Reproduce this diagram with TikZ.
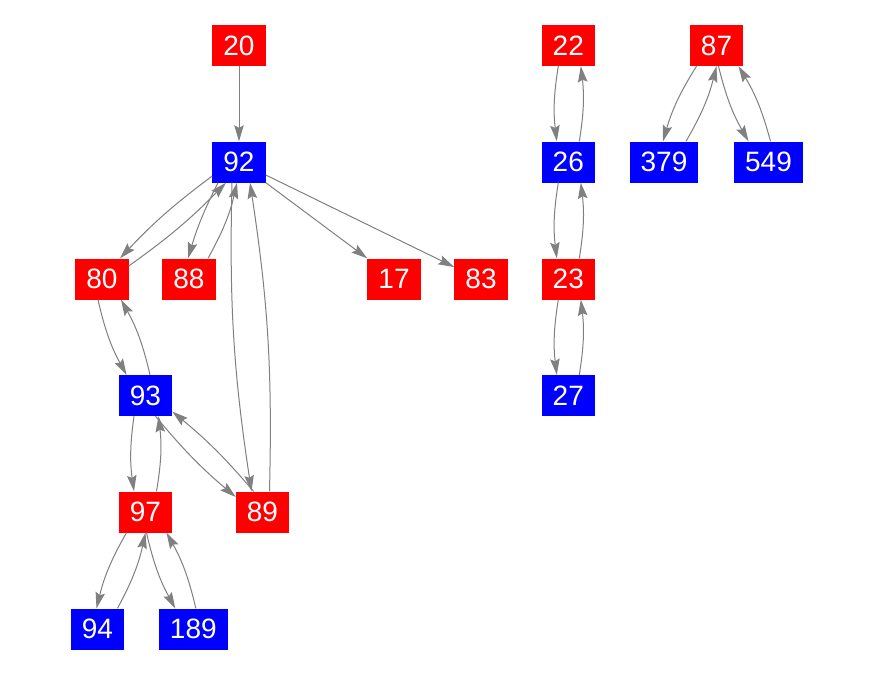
\documentclass[tikz,border=0pt]{standalone}
\usepackage{fontspec}
\setmainfont{Liberation Sans}
\usetikzlibrary{arrows.meta}
\definecolor{edgegray}{RGB}{128,128,128}
\definecolor{nodered}{RGB}{255,0,0}
\definecolor{nodeblue}{RGB}{0,0,255}
\tikzset{
  vbox/.style={rectangle, minimum width=51pt, minimum height=41pt, inner xsep=11pt, inner ysep=0pt, text=white, font=\fontsize{28}{30}\selectfont},
  redbox/.style={vbox, fill=nodered},
  bluebox/.style={vbox, fill=nodeblue},
  conn/.style={draw=edgegray, line width=1pt, -{Stealth[length=16pt,width=9.5pt,inset=2.5pt]}},
  bl/.style={bend right=8},
  bmid/.style={bend right=5},
  blong/.style={bend right=5}
}
\begin{document}
\begin{tikzpicture}[x=1pt,y=-1pt]
\useasboundingbox[fill=white] (0,0) rectangle (875,675);
% nodes
\node[redbox]  (n20)  at (239,45.5)   {20};
\node[bluebox] (n92)  at (239,162)    {92};
\node[redbox]  (n80)  at (102,279)    {80};
\node[redbox]  (n88)  at (189,279)    {88};
\node[redbox]  (n17)  at (394,279)    {17};
\node[redbox]  (n83)  at (481,279)    {83};
\node[bluebox] (n93)  at (145.5,395.5) {93};
\node[redbox]  (n97)  at (145.5,512)  {97};
\node[redbox]  (n89)  at (262.5,512)  {89};
\node[bluebox] (n94)  at (97.5,629)   {94};
\node[bluebox] (n189) at (193.3,629)  {189};
\node[redbox]  (n22)  at (568.3,45.5) {22};
\node[bluebox] (n26)  at (568.3,162)  {26};
\node[redbox]  (n23)  at (568.3,279)  {23};
\node[bluebox] (n27)  at (568.3,395.5) {27};
\node[redbox]  (n87)  at (716.5,45.5) {87};
\node[bluebox] (n379) at (664,162)    {379};
\node[bluebox] (n549) at (768.5,162)  {549};
% edges
\draw[conn] (n20.south) -- (n92.north);
\draw[conn] ([yshift=-14pt]n92.west) to[bmid] ([xshift=18pt]n80.north);
\draw[conn] ([yshift=13pt]n80.east) to[bmid] ([xshift=-13pt]n92.south);
\draw[conn] ([xshift=-21pt]n92.south) to[bmid] ([xshift=-1pt]n88.north);
\draw[conn] ([xshift=19pt]n88.north) to[bl] ([xshift=-2pt]n92.south);
\draw[conn] ([xshift=-7pt]n92.south) to[blong] ([xshift=-11pt]n89.north);
\draw[conn] ([xshift=7pt]n89.north) to[blong] ([xshift=11pt]n92.south);
\draw[conn] (n92.south east) -- (n17.north west);
\draw[conn] ([yshift=-13pt]n92.east) -- ([yshift=12pt]n83.west);
\draw[conn] ([xshift=-4pt]n80.south) to[bl] ([xshift=-19pt]n93.north);
\draw[conn] ([xshift=4.5pt]n93.north) to[bl] ([xshift=19pt]n80.south);
\draw[conn] ([xshift=-11.5pt]n93.south) to[bl] ([xshift=-11.5pt]n97.north);
\draw[conn] ([xshift=11pt]n97.north) to[bl] ([xshift=13pt]n93.south);
\draw[conn] ([xshift=10pt]n93.south) to[bmid] ([yshift=15pt]n89.west);
\draw[conn] ([xshift=-9pt]n89.north) to[bmid] ([yshift=-16pt]n93.east);
\draw[conn] ([xshift=-19pt]n97.south) to[bl] ([xshift=-1pt]n94.north);
\draw[conn] ([xshift=20pt]n94.north) to[bl] (n97.south);
\draw[conn] ([xshift=1pt]n97.south) to[bl] ([xshift=-18pt]n189.north);
\draw[conn] ([xshift=2.5pt]n189.north) to[bl] ([xshift=21pt]n97.south);
\draw[conn] ([xshift=-10pt]n22.south) to[bl] ([xshift=-11.5pt]n26.north);
\draw[conn] ([xshift=11pt]n26.north) to[bl] ([xshift=12.5pt]n22.south);
\draw[conn] ([xshift=-10pt]n26.south) to[bl] ([xshift=-11.5pt]n23.north);
\draw[conn] ([xshift=11pt]n23.north) to[bl] ([xshift=12.5pt]n26.south);
\draw[conn] ([xshift=-10pt]n23.south) to[bl] ([xshift=-11.5pt]n27.north);
\draw[conn] ([xshift=11pt]n27.north) to[bl] ([xshift=12.5pt]n23.south);
\draw[conn] ([xshift=-20pt]n87.south) to[bl] ([xshift=-1pt]n379.north);
\draw[conn] ([xshift=22pt]n379.north) to[bl] ([xshift=0pt]n87.south);
\draw[conn] ([xshift=2pt]n87.south) to[bl] ([xshift=-20pt]n549.north);
\draw[conn] ([xshift=2pt]n549.north) to[bl] ([xshift=22pt]n87.south);
\end{tikzpicture}
\end{document}
